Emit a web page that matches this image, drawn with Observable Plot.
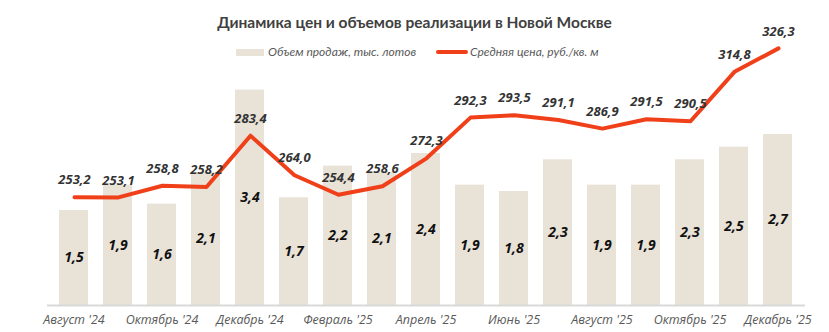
<!DOCTYPE html>
<html><head><meta charset="utf-8">
<script src="https://cdn.jsdelivr.net/npm/d3@7"></script>
<script src="https://cdn.jsdelivr.net/npm/@observablehq/plot@0.6"></script>
<style>
body{margin:0;background:#fff;font-family:"Open Sans",sans-serif;}
#wrap{position:relative;width:829px;height:332px;overflow:hidden;background:#fff}
#wrap svg{position:absolute;left:0;top:0;background:transparent}
#title{position:absolute;left:0;width:829px;top:11px;text-align:center;font-family:Lato,sans-serif;font-weight:bold;font-size:15.5px;color:#404040;line-height:22px;z-index:3}
#legend{position:absolute;top:43px;left:0;width:829px;height:18px;z-index:3;font-family:Lato,sans-serif;font-style:italic;font-size:12px;color:#595959}
.sw{position:absolute}
.lt{position:absolute;top:0;line-height:18px;white-space:nowrap}
g[aria-label="x-axis tick label"] text{font-style:italic}
</style>
</head><body>
<div id="wrap">
  <div id="title">Динамика цен и объемов реализации в Новой Москве</div>
  <div id="legend">
    <div class="sw" style="left:236px;top:6px;width:28px;height:7px;background:#E8E2D7"></div>
    <div class="lt" style="left:268px">Объем продаж, тыс. лотов</div>
    <div class="sw" style="left:436px;top:7px;width:32px;height:4px;border-radius:2px;background:#F0401A"></div>
    <div class="lt" style="left:470px">Средняя цена, руб./кв. м</div>
  </div>
</div>
<script>
const months = ["Август '24","Сентябрь '24","Октябрь '24","Ноябрь '24","Декабрь '24","Январь '25","Февраль '25","Март '25","Апрель '25","Май '25","Июнь '25","Июль '25","Август '25","Сентябрь '25","Октябрь '25","Ноябрь '25","Декабрь '25"];
const volume = [1.5, 1.9, 1.6, 2.1, 3.4, 1.7, 2.2, 2.1, 2.4, 1.9, 1.8, 2.3, 1.9, 1.9, 2.3, 2.5, 2.7];
const price = [253.2, 253.1, 258.8, 258.2, 283.4, 264.0, 254.4, 258.6, 272.3, 292.3, 293.5, 291.1, 286.9, 291.5, 290.5, 314.8, 326.3];
const tickLabels = ["Август '24","Октябрь '24","Декабрь '24","Февраль '25","Апрель '25","Июнь '25","Август '25","Октябрь '25","Декабрь '25"];

const data = months.map((m, i) => ({month: m, volume: volume[i], price: price[i]}));
const fmt = v => v.toFixed(1).replace(".", ",");

const common = {
  width: 829, height: 332,
  marginTop: 20, marginBottom: 27, marginLeft: 47, marginRight: 24,
  style: {fontFamily: "Open Sans, sans-serif", background: "transparent", overflow: "visible"}
};

const bars = Plot.plot({
  ...common,
  x: {domain: months, paddingInner: 0.33, paddingOuter: 0.165, axis: null},
  y: {domain: [0, 4.5], axis: null},
  marks: [
    Plot.barY(data, {x: "month", y: "volume", fill: "#E8E2D7"}),
    Plot.ruleY([0], {stroke: "#D9D9D9", strokeWidth: 2}),
    Plot.text(data, {x: "month", y: d => d.volume / 2, text: d => fmt(d.volume),
      fontWeight: "bold", fontStyle: "italic", fontSize: 14, fill: "#111"}),
    Plot.axisX({ticks: tickLabels, tickSize: 0, tickPadding: 10, fontSize: 12.5, fill: "#595959", label: null})
  ]
});

const line = Plot.plot({
  ...common,
  x: {domain: months, paddingInner: 0.33, paddingOuter: 0.165, axis: null},
  y: {domain: [200, 340], axis: null},
  marks: [
    Plot.lineY(data, {x: "month", y: "price", stroke: "#F0401A", strokeWidth: 4, strokeLinejoin: "round", strokeLinecap: "round"}),
    Plot.text(data, {x: "month", y: "price", dy: -17, text: d => fmt(d.price),
      fontWeight: "bold", fontStyle: "italic", fontSize: 13, fill: "#333"})
  ]
});

const wrap = document.getElementById("wrap");
wrap.insertBefore(bars, wrap.firstChild);
wrap.insertBefore(line, bars.nextSibling);
</script>
</body></html>
